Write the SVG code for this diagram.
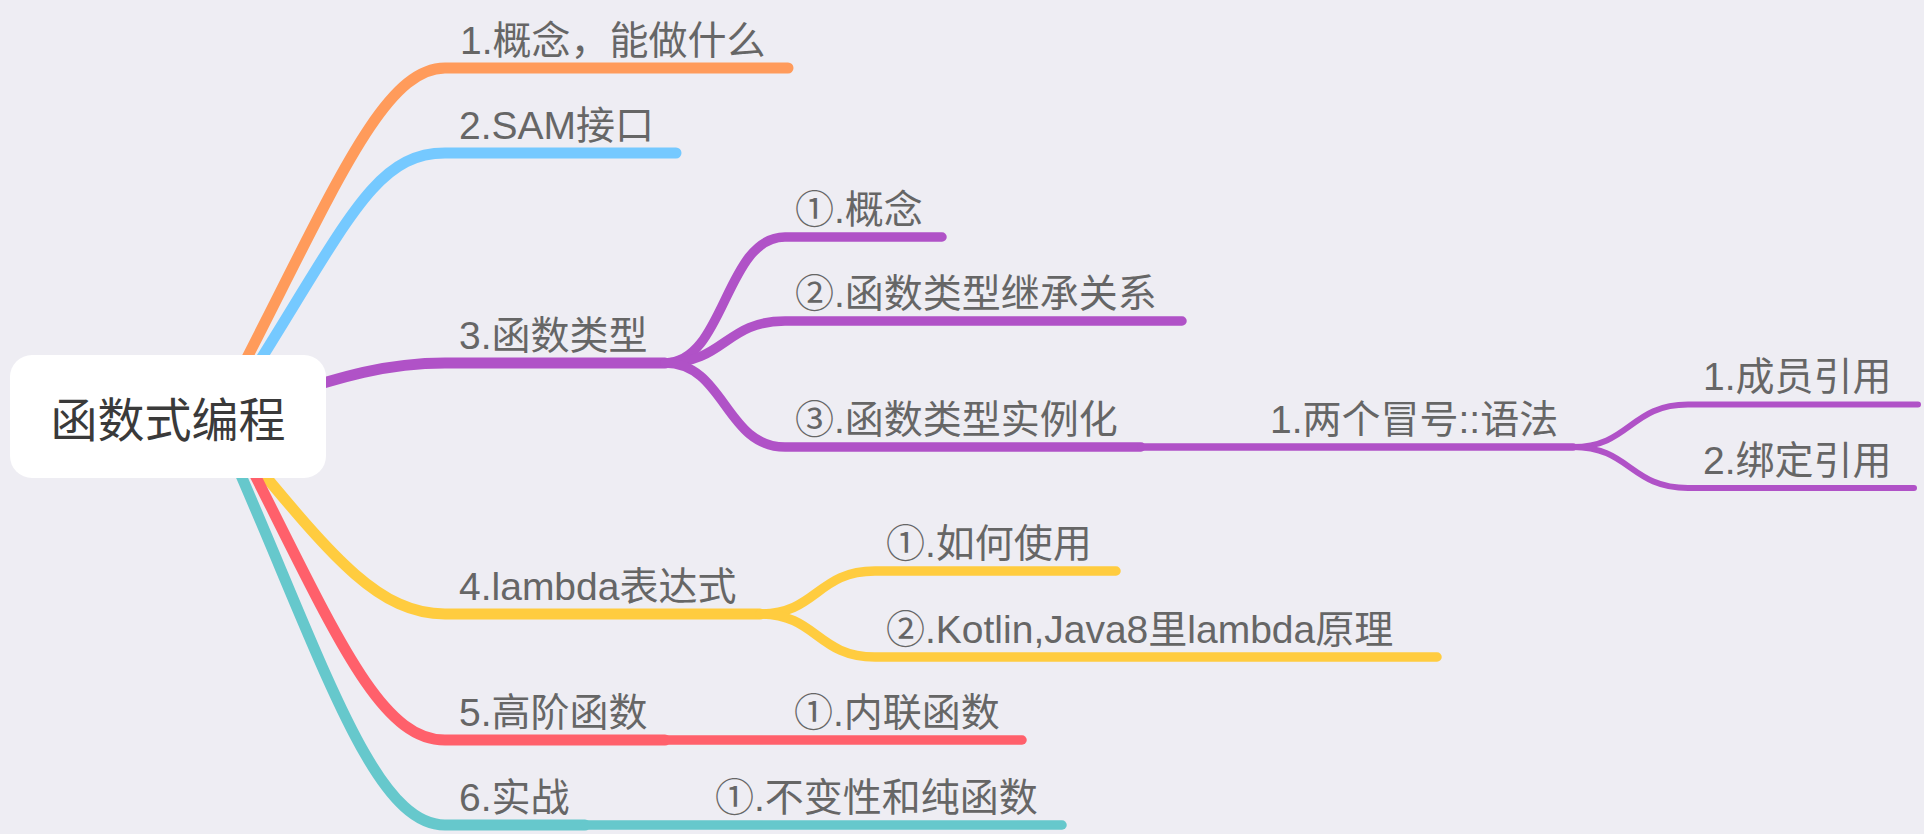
<svg xmlns="http://www.w3.org/2000/svg" width="1924" height="834" viewBox="0 0 1924 834">
<style>
.c{fill:none;stroke-linecap:round;stroke-linejoin:round}
.l1{stroke-width:11}
.l2{stroke-width:9.5}
.l3{stroke-width:7.5}
.l4{stroke-width:6}
.or{stroke:#FF9B5B}.bl{stroke:#75C9FF}.pu{stroke:#B052C7}.ye{stroke:#FFCC3F}.re{stroke:#FF606B}.te{stroke:#66C8CC}
.t{font-family:"Liberation Sans","Noto Sans CJK SC",sans-serif;font-size:39px;fill:#666666}
.root{font-family:"Liberation Sans","Noto Sans CJK SC",sans-serif;font-size:47px;fill:#3a3a3a}
</style>
<rect width="1924" height="834" fill="#EEEDF3"/>
<g id="connectors">
<path class="c l1 or" d="M 220,410 C 330,200 380,68 445,68 L 788,68"/>
<path class="c l1 bl" d="M 225,416 C 345,230 370,153 445,153 L 676,153"/>
<path class="c l1 pu" d="M 215,416 C 320,385 370,363 445,363 L 665,363"/>
<path class="c l1 ye" d="M 215,416 C 320,540 370,614 445,614 L 760,614"/>
<path class="c l1 re" d="M 225,416 C 330,620 375,740 445,740 L 665,740"/>
<path class="c l1 te" d="M 215,416 C 320,650 370,825 445,825 L 585,825"/>
<path class="c l2 pu" d="M 665,363 C 725,363 725,237 785,237 L 942,237"/>
<path class="c l2 pu" d="M 665,363 C 725,363 725,321 785,321 L 1182,321"/>
<path class="c l2 pu" d="M 665,363 C 725,363 725,447 785,447 L 1141,447"/>
<path class="c l3 pu" d="M 1141,447 L 1573,447"/>
<path class="c l4 pu" d="M 1573,447 C 1630,447 1630,404.5 1688,404.5 L 1918,404.5"/>
<path class="c l4 pu" d="M 1573,447 C 1630,447 1630,488 1688,488 L 1914,488"/>
<path class="c l2 ye" d="M 760,614 C 817,614 817,571 875,571 L 1116,571"/>
<path class="c l2 ye" d="M 760,614 C 817,614 817,657 875,657 L 1437,657"/>
<path class="c l2 re" d="M 665,740 L 1022,740"/>
<path class="c l2 te" d="M 585,825 L 1062,825"/>
</g>
<g id="root">
<rect x="10" y="355" width="316" height="123" rx="22" fill="#FFFFFF"/>
<text class="root" x="168" y="437" text-anchor="middle">函数式编程</text>
</g>
<g id="n1"><text class="t" x="460" y="54">1.概念，能做什么</text></g>
<g id="n2"><text class="t" x="459" y="139">2.SAM接口</text></g>
<g id="n3"><text class="t" x="459" y="349">3.函数类型</text></g>
<g id="n3-1"><text class="t" x="795" y="223">①.概念</text></g>
<g id="n3-2"><text class="t" x="795" y="307">②.函数类型继承关系</text></g>
<g id="n3-3"><text class="t" x="795" y="433">③.函数类型实例化</text></g>
<g id="n3-3-1"><text class="t" x="1270" y="433">1.两个冒号::语法</text></g>
<g id="n3-3-1-1"><text class="t" x="1703" y="390">1.成员引用</text></g>
<g id="n3-3-1-2"><text class="t" x="1703" y="474">2.绑定引用</text></g>
<g id="n4"><text class="t" x="459" y="600">4.lambda表达式</text></g>
<g id="n4-1"><text class="t" x="886" y="557">①.如何使用</text></g>
<g id="n4-2"><text class="t" x="886" y="643">②.Kotlin,Java8里lambda原理</text></g>
<g id="n5"><text class="t" x="459" y="726">5.高阶函数</text></g>
<g id="n5-1"><text class="t" x="794" y="726">①.内联函数</text></g>
<g id="n6"><text class="t" x="459" y="811">6.实战</text></g>
<g id="n6-1"><text class="t" x="715" y="811">①.不变性和纯函数</text></g>
</svg>
